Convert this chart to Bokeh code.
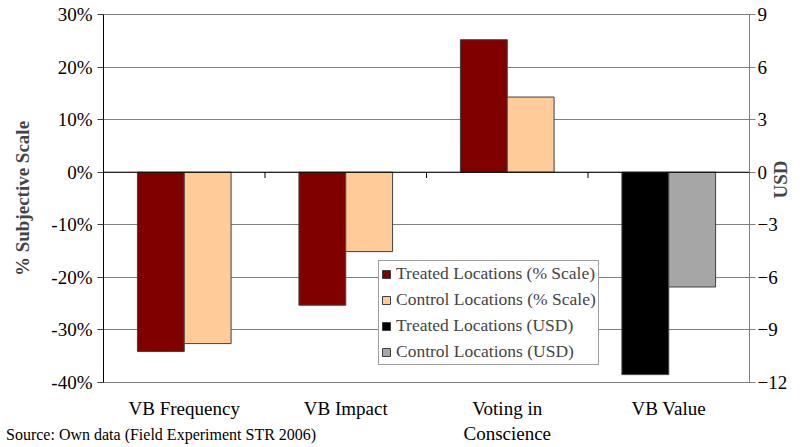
import math
from bokeh.plotting import figure
from bokeh.layouts import column
from bokeh.models import (Range1d, LinearAxis, FixedTicker, NumeralTickFormatter, Span,
                          Legend, LegendItem, ColumnDataSource, Div)
from bokeh.transform import dodge
from bokeh.embed import file_html
from bokeh.resources import INLINE

categories = ["VB Frequency", "VB Impact", "Voting in\nConscience", "VB Value"]
pct_categories = categories[:3]
treated_pct = [-0.341, -0.253, 0.252]
control_pct = [-0.326, -0.151, 0.143]
usd_categories = categories[3:]
treated_usd = [-11.55]
control_usd = [-6.55]
pct_ticks = [-0.4, -0.3, -0.2, -0.1, 0.0, 0.1, 0.2, 0.3]
usd_ticks = [-12, -9, -6, -3, 0, 3, 6, 9]
boundary_categories = categories[:3]

FONT = "Liberation Serif"
TREATED = "#800000"
CONTROL = "#FFCC99"
TREATED_USD = "#000000"
CONTROL_USD = "#A6A6A6"

p = figure(x_range=categories, y_range=Range1d(-0.4, 0.3), width=804, height=447,
           output_backend="svg", toolbar_location=None,
           min_border_left=103, min_border_right=52, min_border_top=14, min_border_bottom=65)
p.extra_y_ranges = {"usd": Range1d(-12, 9)}

src_pct = ColumnDataSource(dict(cat=pct_categories, t=treated_pct, c=control_pct))
src_usd = ColumnDataSource(dict(cat=usd_categories, t=treated_usd, c=control_usd))

bw = 0.29
r1 = p.vbar(x=dodge("cat", -bw / 2, range=p.x_range), top="t", width=bw, source=src_pct,
            fill_color=TREATED, line_color="#404040", line_width=1)
r2 = p.vbar(x=dodge("cat", bw / 2, range=p.x_range), top="c", width=bw, source=src_pct,
            fill_color=CONTROL, line_color="#404040", line_width=1)
r3 = p.vbar(x=dodge("cat", -bw / 2, range=p.x_range), top="t", width=bw, source=src_usd,
            fill_color=TREATED_USD, line_color="#404040", line_width=1, y_range_name="usd")
r4 = p.vbar(x=dodge("cat", bw / 2, range=p.x_range), top="c", width=bw, source=src_usd,
            fill_color=CONTROL_USD, line_color="#404040", line_width=1, y_range_name="usd")

# zero line and category separator ticks on it
p.add_layout(Span(location=0, dimension="width", line_color="black", line_width=1))
src_b = ColumnDataSource(dict(cat=boundary_categories, y0=[0] * 3, y1=[-0.011] * 3))
p.segment(x0=dodge("cat", 0.5, range=p.x_range), x1=dodge("cat", 0.5, range=p.x_range),
          y0="y0", y1="y1", source=src_b, line_color="black", line_width=1)

# grid
p.xgrid.grid_line_color = None
p.ygrid.ticker = FixedTicker(ticks=pct_ticks)
p.ygrid.grid_line_color = "#808080"
p.outline_line_color = "#808080"

# left axis
ya = p.yaxis[0]
ya.ticker = FixedTicker(ticks=pct_ticks)
ya.formatter = NumeralTickFormatter(format="0%")
ya.axis_label = "% Subjective Scale"
ya.axis_label_text_font = FONT
ya.axis_label_text_font_style = "bold"
ya.axis_label_text_font_size = "19px"
ya.axis_label_standoff = 15
ya.major_label_text_font = FONT
ya.major_label_text_font_size = "19px"
ya.major_label_text_color = "black"
ya.major_label_standoff = 5
ya.axis_line_color = "black"
ya.major_tick_line_color = "#404040"
ya.major_tick_out = 6
ya.major_tick_in = 0
ya.minor_tick_line_color = None

# right axis
ra = LinearAxis(y_range_name="usd", ticker=FixedTicker(ticks=usd_ticks), axis_label="USD")
ra.axis_label_text_font = FONT
ra.axis_label_text_font_style = "bold"
ra.axis_label_text_font_size = "19px"
ra.axis_label_standoff = -10
try:
    ra.axis_label_orientation = math.pi / 2
except Exception:
    pass
ra.major_label_text_font = FONT
ra.major_label_text_font_size = "19px"
ra.major_label_text_color = "black"
ra.major_label_standoff = 2
ra.axis_line_color = "#808080"
ra.major_tick_line_color = "#808080"
ra.major_tick_out = 6
ra.major_tick_in = 0
ra.minor_tick_line_color = None
p.add_layout(ra, "right")

# x axis
xa = p.xaxis[0]
xa.major_label_text_font = FONT
xa.major_label_text_font_size = "19px"
xa.major_label_text_color = "black"
xa.major_label_standoff = 9
xa.major_tick_line_color = None
xa.axis_line_color = "#808080"
xa.major_label_orientation = "horizontal"

legend = Legend(items=[
    LegendItem(label="Treated Locations (% Scale)", renderers=[r1]),
    LegendItem(label="Control Locations (% Scale)", renderers=[r2]),
    LegendItem(label="Treated Locations (USD)", renderers=[r3]),
    LegendItem(label="Control Locations (USD)", renderers=[r4]),
], location=(275, 17))
legend.label_text_font = FONT
legend.label_text_font_size = "17.5px"
legend.label_height = 20
legend.glyph_height = 10
legend.glyph_width = 10
legend.spacing = 5
legend.padding = 2
legend.margin = 0
legend.label_standoff = 5
legend.border_line_color = "#404040"
legend.border_line_width = 1
legend.background_fill_alpha = 1
p.add_layout(legend, "center")

source_note = Div(text="Source: Own data (Field Experiment STR 2006)",
                  width=420, height=16, margin=(-20, 0, 0, 6),
                  styles={"font-family": FONT, "font-size": "16px", "line-height": "16px",
                          "white-space": "nowrap", "color": "black"})

layout = column(p, source_note, spacing=0)
open("out.html", "w").write(file_html(layout, INLINE))
